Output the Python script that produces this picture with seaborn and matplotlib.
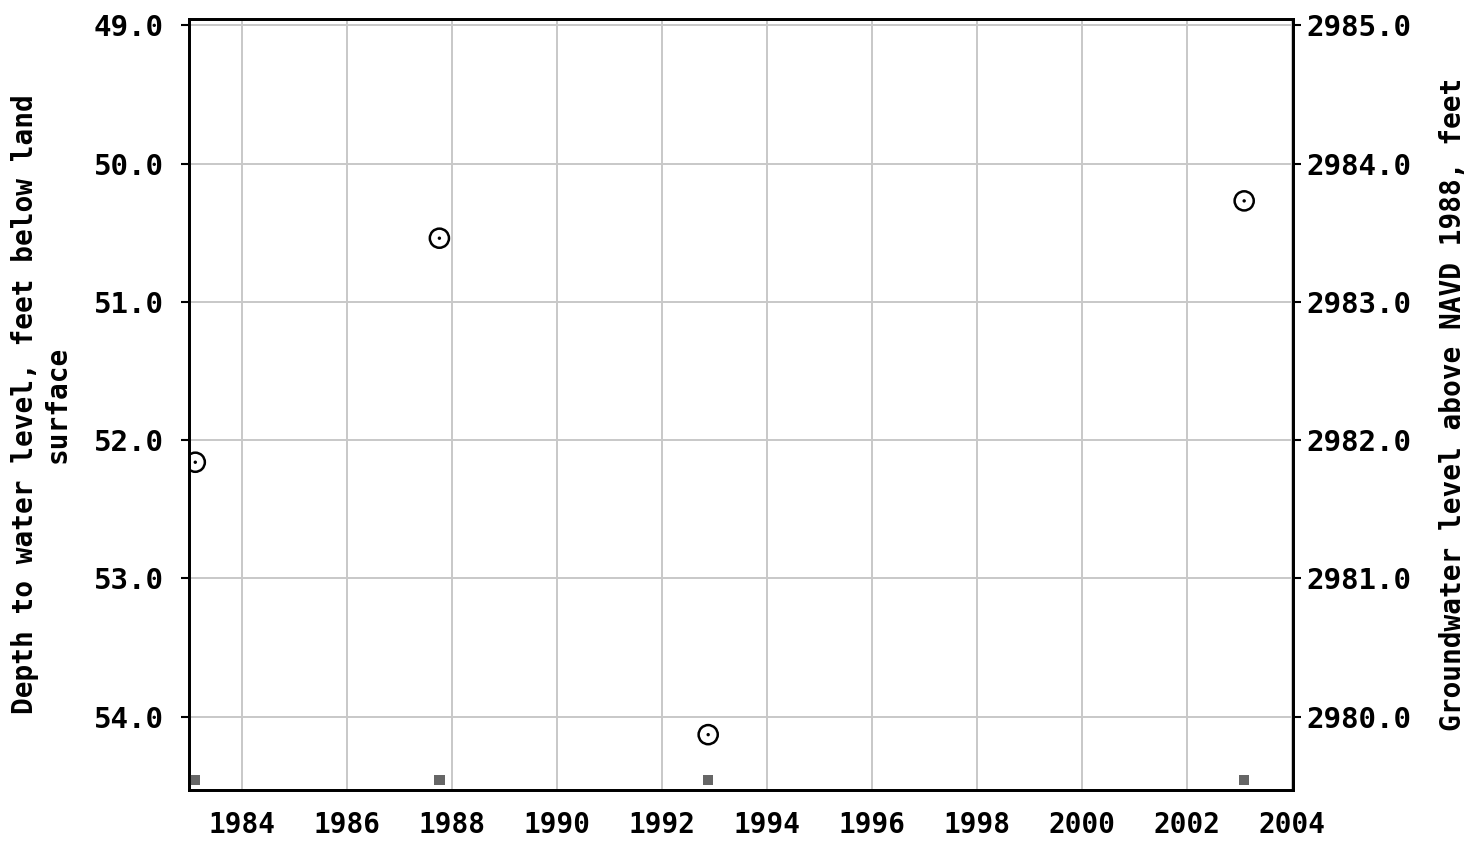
import pandas as pd
import seaborn as sns
import matplotlib.pyplot as plt

years = [1983.11, 1987.76, 1992.88, 2003.09]
depth_ft = [52.16, 50.54, 54.13, 50.27]
# approval markers along the bottom of the plot
approved_y = [54.46, 54.46, 54.46, 54.46]

x_ticks = [1984, 1986, 1988, 1990, 1992, 1994, 1996, 1998, 2000, 2002, 2004]
left_ticks = [49.0, 50.0, 51.0, 52.0, 53.0, 54.0]
datum_offset = 3034.0  # elevation = offset - depth

data = pd.DataFrame({"year": years, "depth": depth_ft, "approved": approved_y})

sns.set_style("white")
plt.rcParams["font.family"] = ["DejaVu Sans Mono", "DejaVu Sans"]
plt.rcParams["font.weight"] = "bold"
plt.rcParams["text.color"] = "black"
plt.rcParams["axes.labelcolor"] = "black"
plt.rcParams["xtick.color"] = "black"
plt.rcParams["ytick.color"] = "black"

fig = plt.figure(figsize=(14.73, 8.42), dpi=100)
ax = fig.add_axes([0.1283, 0.0618, 0.7495, 0.9156])

ax.grid(True, color="#c8c8c8", linewidth=1.4)
ax.set_axisbelow(True)

sns.scatterplot(data=data, x="year", y="approved", ax=ax, marker="s", s=55,
                color="#666666", edgecolor="none", zorder=3)
sns.scatterplot(data=data, x="year", y="depth", ax=ax, marker="o", s=190,
                facecolor="none", edgecolor="black", linewidth=1.8, zorder=4)
sns.scatterplot(data=data, x="year", y="depth", ax=ax, marker="o", s=6,
                color="black", edgecolor="none", zorder=5)

ax.set_xlim(1982.99, 2004.02)
ax.set_ylim(54.53, 48.955)
ax.set_xticks(x_ticks)
ax.set_yticks(left_ticks)
ax.set_yticklabels([f"{v:.1f}" for v in left_ticks])
ax.set_xlabel("")
ax.set_ylabel("Depth to water level, feet below land\nsurface", fontsize=20,
              fontweight="bold", labelpad=16)
ax.tick_params(axis="both", labelsize=21, length=6, width=1.5, color="black",
               direction="out")
ax.tick_params(axis="x", labelsize=20, pad=9)
ax.tick_params(axis="y", pad=12)
for lbl in ax.get_xticklabels() + ax.get_yticklabels():
    lbl.set_fontweight("bold")
for sp in ax.spines.values():
    sp.set_color("black")
    sp.set_linewidth(2)

ax2 = ax.twinx()
lo, hi = ax.get_ylim()
ax2.set_ylim(datum_offset - lo, datum_offset - hi)
right_ticks = [datum_offset - v for v in left_ticks]
ax2.set_yticks(right_ticks)
ax2.set_yticklabels([f"{v:.1f}" for v in right_ticks])
ax2.tick_params(axis="y", labelsize=21, length=6, width=1.5, color="black")
for lbl in ax2.get_yticklabels():
    lbl.set_fontweight("bold")
ax2.set_ylabel("Groundwater level above NAVD 1988, feet", fontsize=20,
               fontweight="bold", labelpad=20)
for sp in ax2.spines.values():
    sp.set_color("black")
    sp.set_linewidth(2)

plt.savefig("out.png", dpi=100)
